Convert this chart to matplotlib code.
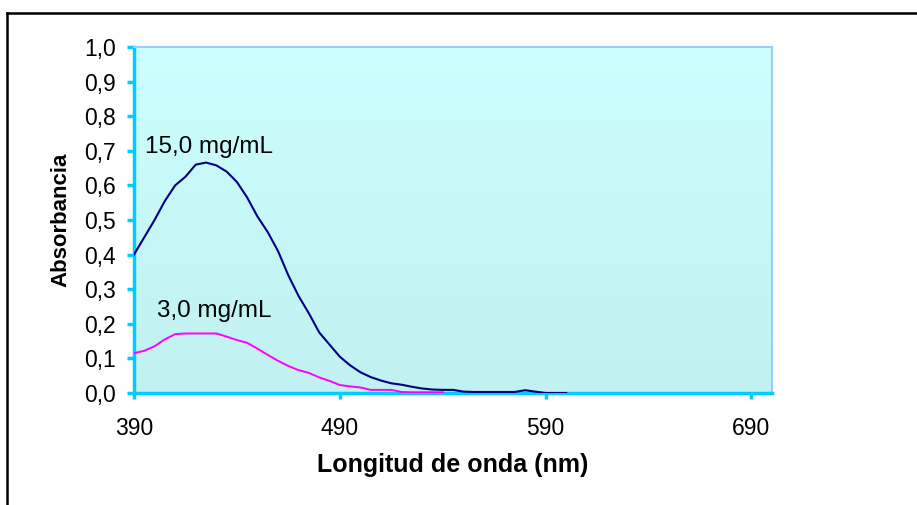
import numpy as np
import matplotlib
matplotlib.use("Agg")
import matplotlib.pyplot as plt
from matplotlib.colors import LinearSegmentedColormap
from matplotlib.lines import Line2D
from matplotlib.ticker import FuncFormatter

plt.rcParams['font.family'] = ['Liberation Sans', 'DejaVu Sans']

# Data
wavelength_15 = [390, 395, 400, 405, 410, 415, 420, 425, 430, 435, 440, 445, 450,
                 455, 460, 465, 470, 475, 480, 485, 490, 495, 500, 505, 510, 515,
                 520, 525, 530, 535, 540, 545, 550, 555, 560, 565, 570, 575, 580,
                 585, 590, 595, 600]
abs_15 = [0.40, 0.45, 0.50, 0.555, 0.60, 0.625, 0.66, 0.666, 0.658, 0.64, 0.61,
          0.565, 0.51, 0.465, 0.41, 0.34, 0.28, 0.23, 0.175, 0.14, 0.105, 0.08,
          0.06, 0.046, 0.036, 0.028, 0.024, 0.018, 0.013, 0.010, 0.009, 0.009,
          0.004, 0.003, 0.003, 0.003, 0.003, 0.003, 0.008, 0.004, 0.0, 0.0, 0.0]

wavelength_3 = [390, 395, 400, 405, 410, 415, 420, 425, 430, 435, 440, 445, 450,
                455, 460, 465, 470, 475, 480, 485, 490, 495, 500, 505, 510, 515,
                520, 525, 530, 535, 540]
abs_3 = [0.115, 0.122, 0.135, 0.155, 0.170, 0.172, 0.172, 0.172, 0.172, 0.163,
         0.153, 0.145, 0.128, 0.110, 0.093, 0.078, 0.066, 0.058, 0.045, 0.035,
         0.023, 0.019, 0.016, 0.009, 0.009, 0.009, 0.003, 0.002, 0.002, 0.002,
         0.002]

x_ticks = [390, 490, 590, 690]
y_ticks = [0.0, 0.1, 0.2, 0.3, 0.4, 0.5, 0.6, 0.7, 0.8, 0.9, 1.0]

fig = plt.figure(figsize=(9.17, 5.05), dpi=100)
ax = fig.add_axes([0.1461, 0.2218, 0.6958, 0.6851])

# gradient background
cmap = LinearSegmentedColormap.from_list('bg', ['#c1f1f1', '#ccffff'])
grad = np.linspace(0, 1, 256).reshape(-1, 1)
ax.imshow(grad, aspect='auto', cmap=cmap, origin='lower',
          extent=[390, 700, 0, 1.0], zorder=0)

ax.plot(wavelength_15, abs_15, color='#000080', lw=1.5, zorder=3)
ax.plot(wavelength_3, abs_3, color='#ff00ff', lw=1.4, zorder=3)

ax.text(395.4, 0.712, '15,0 mg/mL', fontsize=17.5, va='center', ha='left')
ax.text(401, 0.236, '3,0 mg/mL', fontsize=17.5, va='center', ha='left')

ax.set_xlim(390, 700)
ax.set_ylim(0, 1.0)
ax.set_xticks(x_ticks)
ax.set_yticks(y_ticks)
ax.yaxis.set_major_formatter(FuncFormatter(lambda v, p: f'{v:.1f}'.replace('.', ',')))

for s in ['left', 'bottom']:
    ax.spines[s].set_color('#00ccff')
    ax.spines[s].set_linewidth(2.5)
for s in ['top', 'right']:
    ax.spines[s].set_color('#99ccff')
    ax.spines[s].set_linewidth(1.5)

ax.tick_params(axis='y', direction='out', length=5, width=2.5, color='#00ccff',
               labelsize=16.5, pad=8)
ax.tick_params(axis='x', direction='out', length=4, width=2.5, color='#00ccff',
               labelsize=16.5, pad=13)

ax.set_ylabel('Absorbancia', fontsize=16, fontweight='bold', labelpad=9)
ax.set_xlabel('Longitud de onda (nm)', fontsize=18, fontweight='bold', labelpad=10)

# outer frame (left and top only visible)
fig.add_artist(Line2D([7 / 917, 7 / 917], [0, 1 - 13 / 505], color='black',
                      lw=1.8, transform=fig.transFigure))
fig.add_artist(Line2D([7 / 917, 1], [1 - 13 / 505, 1 - 13 / 505], color='black',
                      lw=1.8, transform=fig.transFigure))

fig.savefig('out.png', dpi=100, facecolor='white')
